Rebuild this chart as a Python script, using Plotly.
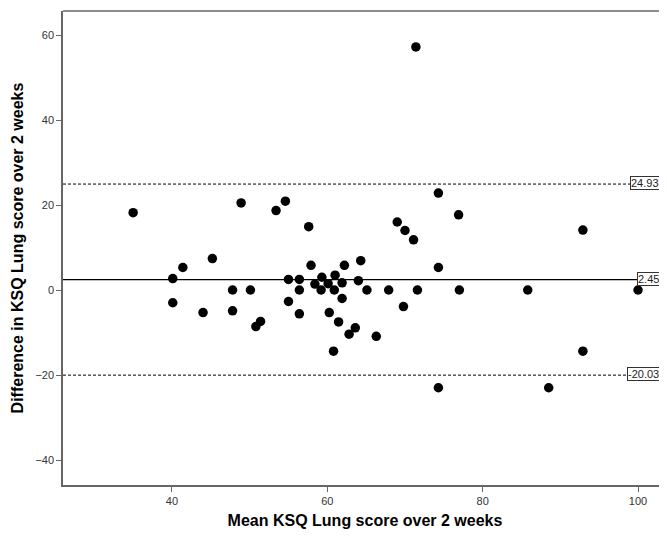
import plotly.graph_objects as go

# Bland-Altman data: mean score (x) vs difference (y)
mean_score = [35.0, 40.1, 40.1, 41.4, 44.0, 45.2, 47.8, 47.8, 48.9, 50.1,
              50.8, 51.4, 53.4, 54.6, 55.0, 55.0, 56.4, 56.4, 56.4, 57.6,
              57.9, 58.4, 59.3, 59.2, 60.1, 60.25, 60.8, 60.9, 61.0, 61.45,
              61.9, 61.9, 62.2, 62.8, 63.6, 64.0, 64.3, 65.1, 66.3, 67.9,
              69.0, 69.8, 70.0, 71.1, 71.4, 71.6, 74.3, 74.3, 74.3, 76.9,
              77.0, 85.8, 88.5, 92.9, 92.9, 100.0]
difference = [18.2, 2.7, -3.0, 5.3, -5.3, 7.4, 0.0, -4.9, 20.5, 0.0,
              -8.6, -7.4, 18.7, 20.9, 2.5, -2.7, 2.5, 0.0, -5.6, 14.9,
              5.8, 1.4, 3.0, 0.0, 1.5, -5.3, -14.4, 0.0, 3.5, -7.5,
              1.7, -2.0, 5.8, -10.4, -8.9, 2.2, 6.9, 0.0, -10.9, 0.0,
              16.0, -3.9, 14.0, 11.8, 57.2, 0.0, 22.8, 5.3, -23.0, 17.7,
              0.0, 0.0, -23.0, 14.1, -14.4, 0.0]

mean_diff = 2.45
upper_loa = 24.93
lower_loa = -20.03

x_ticks = [40, 60, 80, 100]
y_ticks = [-40, -20, 0, 20, 40, 60]

FONT = "Liberation Sans, Arial, sans-serif"

fig = go.Figure()
fig.add_trace(go.Scatter(
    x=mean_score, y=difference, mode="markers",
    marker=dict(color="black", size=9.5, line=dict(width=0)),
    showlegend=False, hoverinfo="x+y"))

# reference lines
fig.add_shape(type="line", xref="paper", x0=0, x1=1, yref="y",
              y0=mean_diff, y1=mean_diff, line=dict(color="black", width=1.2))
for v in (upper_loa, lower_loa):
    fig.add_shape(type="line", xref="paper", x0=0, x1=1, yref="y",
                  y0=v, y1=v, line=dict(color="black", width=1, dash="3px,2px"))

# top border
fig.add_shape(type="line", xref="paper", yref="paper", x0=0, x1=1, y0=1, y1=1,
              line=dict(color="#666666", width=1.5))

for v in (upper_loa, mean_diff, lower_loa):
    fig.add_annotation(x=1.0, xref="paper", y=v, yref="y", xshift=-7, yshift=1,
                       text=f"{v:.2f}", showarrow=False, xanchor="right",
                       yanchor="middle", bgcolor="white",
                       bordercolor="#333333", borderwidth=1, borderpad=0,
                       font=dict(family=FONT, size=11, color="#222222"))

fig.update_layout(
    width=659, height=521,
    margin=dict(l=55, r=0, t=3, b=44),
    plot_bgcolor="white", paper_bgcolor="white",
    font=dict(family=FONT, color="#222222"),
    xaxis=dict(range=[25.97, 103.73], tickvals=x_ticks, showgrid=False,
               zeroline=False, showline=True, linecolor="#666666", linewidth=1.5,
               ticks="outside", ticklen=5, tickcolor="#666666",
               tickfont=dict(size=11, color="#333333"),
               title=dict(text="Mean KSQ Lung score over 2 weeks",
                          font=dict(size=16, weight="bold", color="black"),
                          standoff=11)),
    yaxis=dict(range=[-45.88, 65.65], tickvals=y_ticks, showgrid=False,
               zeroline=False, showline=True, linecolor="#666666", linewidth=1.5,
               ticks="outside", ticklen=5, tickcolor="#666666",
               tickfont=dict(size=11, color="#333333"),
               title=dict(text="Difference in KSQ Lung score over 2 weeks",
                          font=dict(size=16, weight="bold", color="black"),
                          standoff=8)),
)

fig.write_html("out.html")
